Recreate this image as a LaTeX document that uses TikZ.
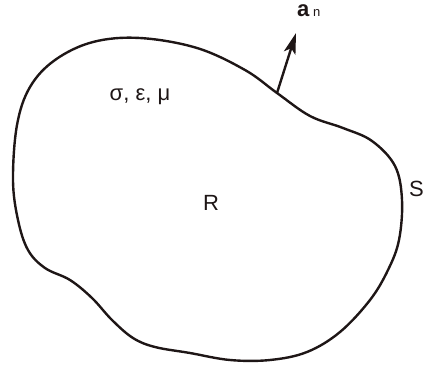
\documentclass[tikz,border=0pt]{standalone}
\usepackage{fontspec}
\setmainfont{Liberation Sans}
\usetikzlibrary{arrows.meta,positioning}
\definecolor{inkblack}{RGB}{30,22,22}
\tikzset{
  boundary/.style={
    draw=inkblack,
    line width=2.4pt,
    line join=round
  },
  normalarrow/.style={-{Stealth[length=21pt,width=12pt,inset=5pt]}, line width=2.4pt, draw=inkblack},
  lbl/.style={text=inkblack, inner sep=0pt, font=\fontsize{22}{26}\selectfont}
}
\begin{document}
\begin{tikzpicture}[x=1pt, y=-1pt]
        \useasboundingbox (0,0) rectangle (425,367);
        \draw[boundary] plot[smooth cycle, tension=0.6] coordinates {
          (13,180) (17,125) (30,87) (55,60) (93,42) (140,38) (197,48)
          (245,70) (277,93) (310,116) (343,128) (372,141) (395,166)
          (402,200) (399,240) (388,270) (370,300) (340,332) (307,352)
          (270,360) (230,360) (190,353) (155,347) (133,338) (112,320)
          (92,298) (70,280) (45,268) (28,250) (18,220)};
        \coordinate (base) at (277,93);
        \coordinate (tip) at (296,33);
        \draw[normalarrow] (base) -- (tip);
        \node[lbl, above right=16pt and 1pt of tip] (an) {\textbf{a}\,{\fontsize{13}{15}\selectfont n}};
        \node[lbl] (params) at (140,97) {σ, ε, μ};
        \node[lbl] (region) at (211,203) {R};
        \node[lbl, anchor=east] (surface) at (424,189) {S};
      \end{tikzpicture}
\end{document}
